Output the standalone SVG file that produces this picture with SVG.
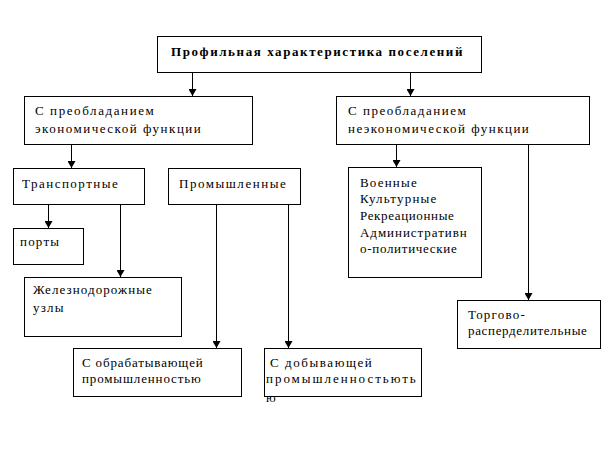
<svg xmlns="http://www.w3.org/2000/svg" width="613" height="457" viewBox="0 0 613 457">
<style>
.box{fill:#fff;stroke:#000;stroke-width:1}
text{font-family:'Liberation Serif','Times New Roman',serif;font-size:13px;fill:#000;letter-spacing:1.2px}
.b{font-weight:bold;letter-spacing:0.6px}
.c{stroke:#000;stroke-width:1;fill:none}
</style>
<defs>
<marker id="a" markerUnits="userSpaceOnUse" markerWidth="8" markerHeight="7" viewBox="0 0 8 7" refX="4" refY="7" orient="0">
<path d="M0,0 L8,0 L4,7 Z" fill="#000"/>
</marker>
</defs>
<rect width="613" height="457" fill="#fff"/>
<g id="connectors">
<line class="c" x1="192.5" y1="72" x2="192.5" y2="96" marker-end="url(#a)"/>
<line class="c" x1="410.5" y1="72" x2="410.5" y2="96" marker-end="url(#a)"/>
<line class="c" x1="71.5" y1="144" x2="71.5" y2="168" marker-end="url(#a)"/>
<line class="c" x1="396.5" y1="144" x2="396.5" y2="167" marker-end="url(#a)"/>
<line class="c" x1="528.5" y1="144" x2="528.5" y2="300" marker-end="url(#a)"/>
<line class="c" x1="48.5" y1="204" x2="48.5" y2="228" marker-end="url(#a)"/>
<line class="c" x1="120.5" y1="204" x2="120.5" y2="277" marker-end="url(#a)"/>
<line class="c" x1="216.5" y1="204" x2="216.5" y2="348" marker-end="url(#a)"/>
<line class="c" x1="288.5" y1="204" x2="288.5" y2="348" marker-end="url(#a)"/>
</g>
<g id="n-top">
<rect class="box" x="157.5" y="36.5" width="324" height="36"/>
<text class="b" x="171" y="56" textLength="292" lengthAdjust="spacing">Профильная характеристика поселений</text>
</g>
<g id="n-econ">
<rect class="box" x="24.5" y="96.5" width="228" height="48"/>
<text x="35" y="115" textLength="120" lengthAdjust="spacing">С преобладанием</text>
<text x="35" y="133" textLength="167" lengthAdjust="spacing">экономической функции</text>
</g>
<g id="n-nonecon">
<rect class="box" x="336.5" y="96.5" width="253" height="48"/>
<text x="348" y="115" textLength="119" lengthAdjust="spacing">С преобладанием</text>
<text x="348" y="133" textLength="182" lengthAdjust="spacing">неэкономической функции</text>
</g>
<g id="n-transport">
<rect class="box" x="13.5" y="168.5" width="131" height="36"/>
<text x="22" y="188" textLength="97" lengthAdjust="spacing">Транспортные</text>
</g>
<g id="n-prom">
<rect class="box" x="168.5" y="168.5" width="132" height="36"/>
<text x="179" y="188" textLength="108" lengthAdjust="spacing">Промышленные</text>
</g>
<g id="n-other">
<rect class="box" x="348.5" y="167.5" width="133" height="110"/>
<text x="360" y="187">Военные</text>
<text x="360" y="203">Культурные</text>
<text x="360" y="220" textLength="95" lengthAdjust="spacing">Рекреационные</text>
<text x="360" y="237" textLength="108" lengthAdjust="spacing">Административн</text>
<text x="360" y="253" textLength="98" lengthAdjust="spacing">о-политические</text>
</g>
<g id="n-ports">
<rect class="box" x="13.5" y="228.5" width="70" height="36"/>
<text x="20" y="246">порты</text>
</g>
<g id="n-rail">
<rect class="box" x="24.5" y="277.5" width="157" height="59"/>
<text x="33" y="294" textLength="120" lengthAdjust="spacing">Железнодорожные</text>
<text x="33" y="312">узлы</text>
</g>
<g id="n-obr">
<rect class="box" x="73.5" y="348.5" width="168" height="48"/>
<text x="82" y="367" textLength="122" lengthAdjust="spacing">С обрабатывающей</text>
<text x="82" y="383" textLength="120" lengthAdjust="spacing">промышленностью</text>
</g>
<g id="n-dob">
<rect class="box" x="264.5" y="348.5" width="157" height="48"/>
<text x="270" y="367" textLength="103" lengthAdjust="spacing">С добывающей</text>
<text x="266" y="383" textLength="151" lengthAdjust="spacing">промышленностьють</text>
<text x="266" y="402">ю</text>
</g>
<g id="n-trade">
<rect class="box" x="457.5" y="300.5" width="143" height="48"/>
<text x="468" y="319">Торгово-</text>
<text x="468" y="335" textLength="120" lengthAdjust="spacing">расперделительные</text>
</g>
</svg>
